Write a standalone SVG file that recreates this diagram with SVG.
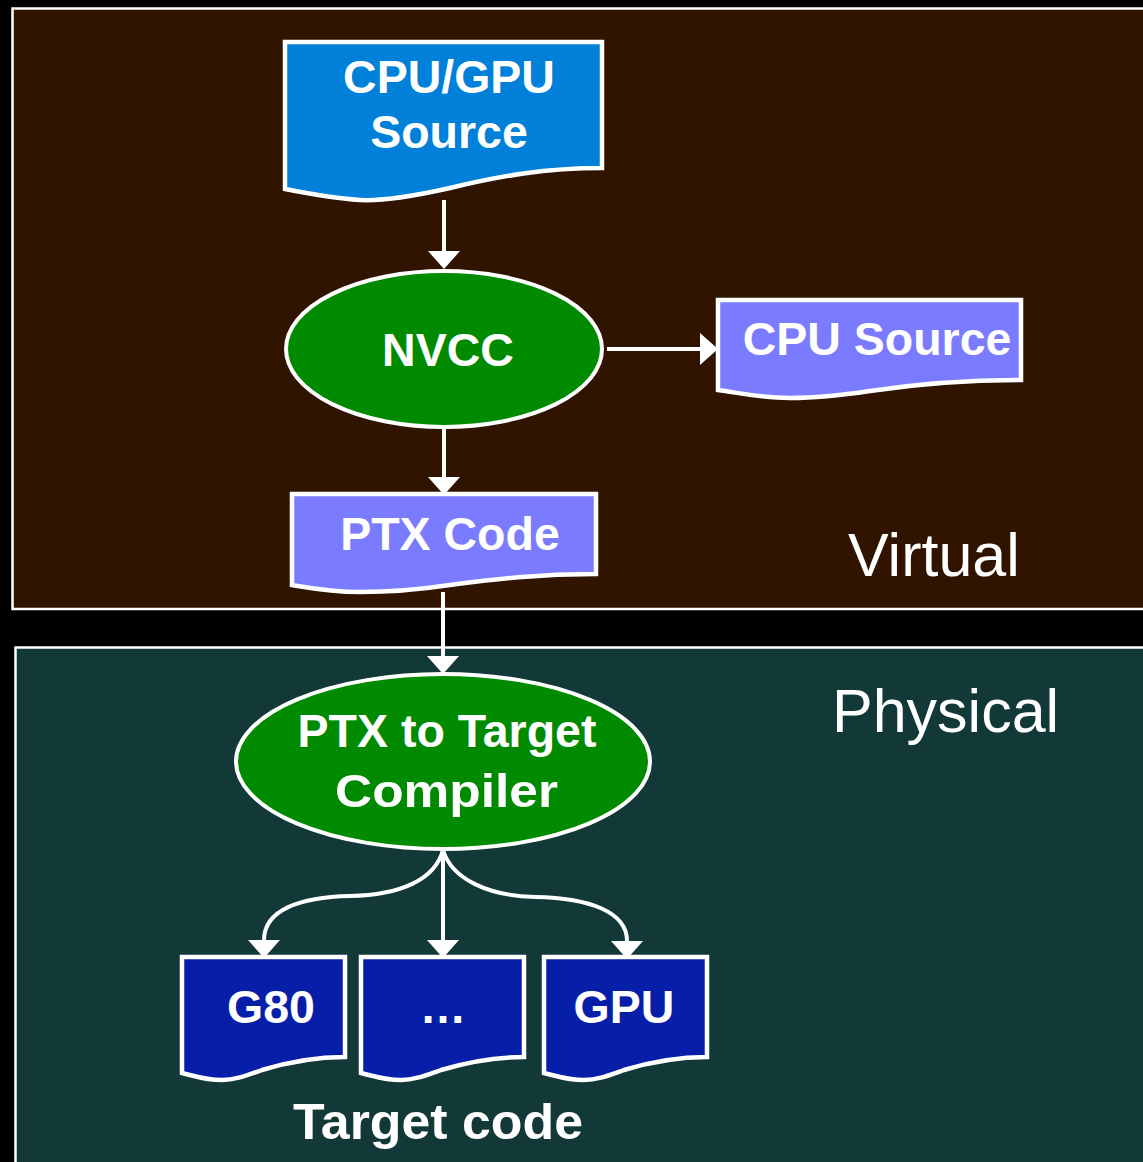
<svg xmlns="http://www.w3.org/2000/svg" width="1143" height="1162" viewBox="0 0 1143 1162">
<style>
.bold{font-family:"Liberation Sans",Arial,sans-serif;font-weight:bold;fill:#fff;text-anchor:middle;font-size:46.5px}
.reg{font-family:"Liberation Sans",Arial,sans-serif;fill:#fff;font-size:61px}
.doc{stroke:#fff;stroke-width:4.5;stroke-linejoin:miter}
.ell{fill:#008a00;stroke:#fff;stroke-width:4}
.conn{fill:none;stroke:#fff;stroke-width:4}
</style>
<defs>
<marker id="ah" viewBox="0 0 18 32" refX="0" refY="16" markerWidth="18" markerHeight="32" markerUnits="userSpaceOnUse" orient="auto">
<path d="M0,0 L18,16 L0,32 Z" fill="#fff"/>
</marker>
</defs>
<rect x="0" y="0" width="1143" height="1162" fill="#000"/>
<g id="virtual">
<rect x="12.5" y="8.5" width="1140" height="600.5" fill="#301400" stroke="#fff" stroke-width="2.5"/>
<text class="reg" x="848" y="576">Virtual</text>
</g>
<g id="physical">
<rect x="15.5" y="647.5" width="1140" height="530" fill="#123838" stroke="#fff" stroke-width="2.5"/>
<text class="reg" x="832" y="732">Physical</text>
</g>
<g id="connectors">
<path class="conn" d="M444,200 V251" marker-end="url(#ah)"/>
<path class="conn" d="M607,349 H700" marker-end="url(#ah)"/>
<path class="conn" d="M444,428 V477" marker-end="url(#ah)"/>
<path class="conn" d="M443,592 V656" marker-end="url(#ah)"/>
<path class="conn" d="M443,850 V940" marker-end="url(#ah)"/>
<path class="conn" d="M443,850 C435,880 400,895 350,896 C300,897 264,910 264,940" marker-end="url(#ah)"/>
<path class="conn" d="M443,850 C452,880 490,896 535,897 C590,898 627,912 627,941" marker-end="url(#ah)"/>
</g>
<g id="cpugpu-source">
<path class="doc" fill="#0080d8" d="M285,42 H602 V168 C545,168 500,176 450,188 C410,197 380,201 360,200 C330,198 305,193 285,189 Z"/>
<text class="bold" x="449" y="93">CPU/GPU</text>
<text class="bold" x="449" y="148">Source</text>
</g>
<g id="nvcc">
<ellipse class="ell" cx="444" cy="349" rx="158" ry="78"/>
<text class="bold" x="448" y="366">NVCC</text>
</g>
<g id="cpu-source">
<path class="doc" fill="#7b7bff" d="M718,300 H1021 V380 C960,380 910,385 870,391 C830,397 805,398 790,398 C760,398 740,393 718,390 Z"/>
<text class="bold" x="877" y="355">CPU Source</text>
</g>
<g id="ptx-code">
<path class="doc" fill="#7b7bff" d="M292,494 H596 V574 C535,574 490,580 450,585 C410,591 380,592 360,592 C330,592 310,588 292,585 Z"/>
<text class="bold" x="450" y="550">PTX Code</text>
</g>
<g id="ptx-compiler">
<ellipse class="ell" cx="443" cy="761.5" rx="207" ry="87.5"/>
<text class="bold" x="447" y="747">PTX to Target</text>
<text class="bold" x="446.5" y="807" textLength="223" lengthAdjust="spacingAndGlyphs">Compiler</text>
</g>
<g id="g80">
<path class="doc" fill="#061ea8" d="M182,957 H345 V1057 C310,1057 285,1063 262,1070 C245,1076 235,1080 222,1080 C205,1080 195,1076 182,1073 Z"/>
<text class="bold" x="271" y="1023">G80</text>
</g>
<g id="ellipsis">
<path class="doc" fill="#061ea8" d="M361,957 H524 V1057 C489,1057 464,1063 441,1070 C424,1076 414,1080 401,1080 C384,1080 374,1076 361,1073 Z"/>
<text class="bold" x="443" y="1023">…</text>
</g>
<g id="gpu">
<path class="doc" fill="#061ea8" d="M544,957 H707 V1057 C672,1057 647,1063 624,1070 C607,1076 597,1080 584,1080 C567,1080 557,1076 544,1073 Z"/>
<text class="bold" x="624" y="1023">GPU</text>
</g>
<g id="target-code">
<text class="bold" x="438" y="1139" style="font-size:50px" textLength="290" lengthAdjust="spacingAndGlyphs">Target code</text>
</g>
</svg>
